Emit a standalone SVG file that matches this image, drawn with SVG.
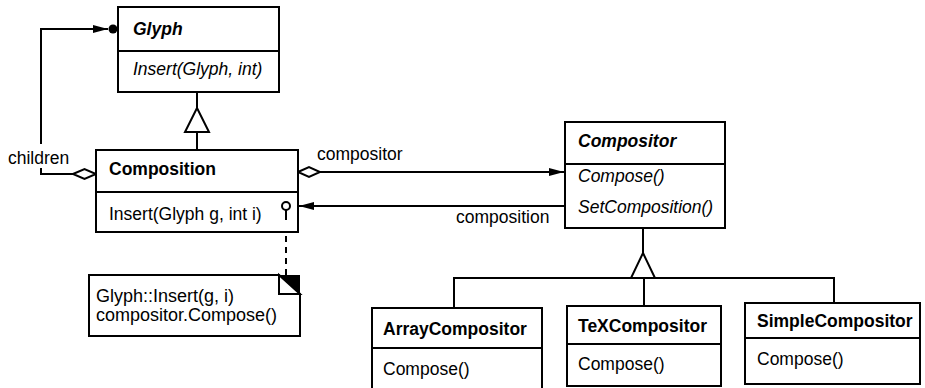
<svg xmlns="http://www.w3.org/2000/svg" width="925" height="388" viewBox="0 0 925 388">
<style>
.box{fill:#fff;stroke:#000;stroke-width:2}
.ln{fill:none;stroke:#000;stroke-width:2}
.t{font-family:"Liberation Sans",Arial,sans-serif;font-size:17.5px;fill:#000}
.n{font-size:18px}
.b{font-weight:bold}
.i{font-style:italic}
</style>
<defs>
<marker id="arr" markerWidth="16" markerHeight="10" refX="15" refY="5" orient="auto" markerUnits="userSpaceOnUse"><path d="M0,1 L15,5 L0,9 Z" fill="#000"/></marker>
</defs>
<g id="connectors">
  <!-- children -->
  <polyline class="ln" points="41,144 41,29 108,29" marker-end="url(#arr)"/>
  <circle cx="113" cy="29" r="4.5" fill="#000"/>
  <polyline class="ln" points="41,168 41,174 73,174"/>
  <polygon class="box" points="73,174 84.5,169 96,174 84.5,179"/>
  <text class="t" x="8" y="164">children</text>
  <!-- Glyph inheritance -->
  <line class="ln" x1="197" y1="92" x2="197" y2="108"/>
  <polygon class="box" points="197,108 209,132 185,132"/>
  <line class="ln" x1="197" y1="132" x2="197" y2="150"/>
  <!-- compositor -->
  <polygon class="box" points="298,172 309,167 320,172 309,177"/>
  <line class="ln" x1="320" y1="172" x2="564" y2="172" marker-end="url(#arr)"/>
  <text class="t" x="317" y="160">compositor</text>
  <!-- composition -->
  <line class="ln" x1="565" y1="206" x2="299" y2="206" marker-end="url(#arr)"/>
  <text class="t" x="456" y="223">composition</text>
  <!-- Compositor inheritance -->
  <line class="ln" x1="643" y1="228" x2="643" y2="253"/>
  <polygon class="box" points="643,253 655,278 631,278"/>
  <polyline class="ln" points="454,308 454,278 834,278 834,303"/>
  <line class="ln" x1="644" y1="278" x2="644" y2="306"/>
  <!-- note link -->
  <line class="ln" x1="286" y1="236" x2="286" y2="275" stroke-dasharray="6,5"/>
</g>
<g id="glyph">
  <rect class="box" x="118" y="7" width="161" height="85"/>
  <line class="ln" x1="118" y1="51" x2="279" y2="51"/>
  <text class="t b i" x="133" y="35">Glyph</text>
  <text class="t i" x="133" y="75">Insert(Glyph, int)</text>
</g>
<g id="composition">
  <rect class="box" x="96" y="150" width="202" height="82"/>
  <line class="ln" x1="96" y1="192" x2="298" y2="192"/>
  <text class="t b" x="109" y="175">Composition</text>
  <text class="t" x="109" y="220">Insert(Glyph g, int i)</text>
  <circle cx="286" cy="206" r="4" fill="#fff" stroke="#000" stroke-width="2"/>
  <line class="ln" x1="286" y1="210" x2="286" y2="220"/>
</g>
<g id="note">
  <polygon class="box" points="89,275 279,275 300,294 300,336 89,336"/>
  <polygon points="279,275 300,275 300,294" fill="#000"/>
  <polygon points="279,275 300,294 279,294" fill="#fff" stroke="#000" stroke-width="2"/>
  <text class="t n" x="96" y="302">Glyph::Insert(g, i)</text>
  <text class="t n" x="96" y="321">compositor.Compose()</text>
</g>
<g id="compositor">
  <rect class="box" x="565" y="122" width="160" height="106"/>
  <line class="ln" x1="565" y1="164" x2="725" y2="164"/>
  <text class="t b i" x="578" y="147">Compositor</text>
  <text class="t i" x="578" y="182">Compose()</text>
  <text class="t i" x="578" y="213">SetComposition()</text>
</g>
<g id="arraycompositor">
  <rect class="box" x="372" y="308" width="170" height="82"/>
  <line class="ln" x1="372" y1="348" x2="542" y2="348"/>
  <text class="t b" x="383" y="335">ArrayCompositor</text>
  <text class="t" x="383" y="375">Compose()</text>
</g>
<g id="texcompositor">
  <rect class="box" x="567" y="306" width="154" height="80"/>
  <line class="ln" x1="567" y1="344" x2="721" y2="344"/>
  <text class="t b" x="578" y="332">TeXCompositor</text>
  <text class="t" x="578" y="370">Compose()</text>
</g>
<g id="simplecompositor">
  <rect class="box" x="745" y="303" width="175" height="81"/>
  <line class="ln" x1="745" y1="338" x2="920" y2="338"/>
  <text class="t b" x="757" y="327">SimpleCompositor</text>
  <text class="t" x="757" y="365">Compose()</text>
</g>
</svg>
